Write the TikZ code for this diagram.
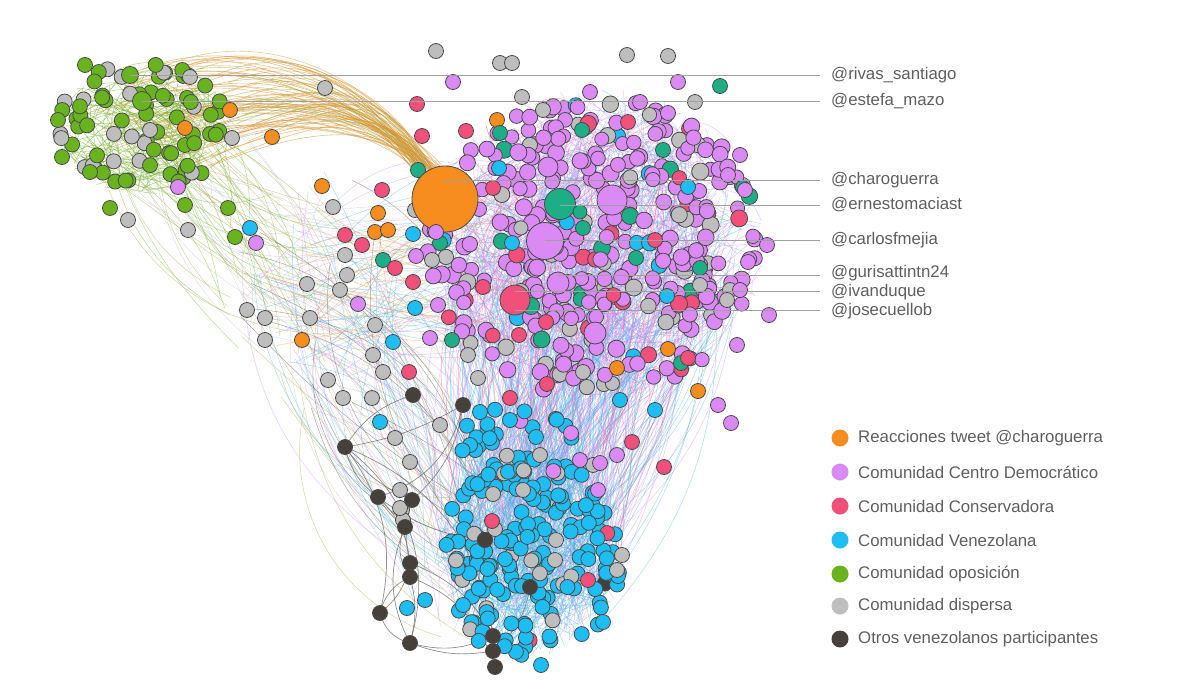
\documentclass[tikz,border=0pt]{standalone}
\usepackage{fontspec}
\setmainfont{Liberation Sans}
\definecolor{cpur}{RGB}{219,138,245}
\definecolor{corg}{RGB}{247,140,31}
\definecolor{cpnk}{RGB}{240,80,122}
\definecolor{cblu}{RGB}{30,190,245}
\definecolor{cgrn}{RGB}{105,180,30}
\definecolor{cgry}{RGB}{190,190,190}
\definecolor{cdrk}{RGB}{70,64,58}
\definecolor{ctel}{RGB}{29,174,134}
\definecolor{ctan}{RGB}{205,160,70}
\definecolor{colv}{RGB}{170,160,60}
\definecolor{ndline}{RGB}{75,75,75}
\definecolor{txtc}{RGB}{95,95,95}
\definecolor{lblline}{RGB}{160,160,160}
\definecolor{epur}{RGB}{205,140,240}
\definecolor{eblu}{RGB}{70,180,230}
\definecolor{edrk}{RGB}{110,105,100}
\newcommand\rpoint[6]{%
  \pgfmathsetmacro\rpA{360*rnd}%
  \pgfmathsetmacro\rpR{sqrt(rnd)}%
  \pgfmathsetmacro#5{#1+#3*\rpR*cos(\rpA)}%
  \pgfmathsetmacro#6{#2+#4*\rpR*sin(\rpA)}%
}
\tikzset{
  nd/.style={draw=ndline,line width=.8pt},
  edg/.style={line width=.5pt,opacity=.45},
  lbl/.style={anchor=west,text=txtc,font=\fontsize{16.8}{19}\selectfont,inner sep=0pt},
  lline/.style={draw=lblline,line width=1pt}
}
\begin{document}
\begin{tikzpicture}[x=1pt,y=-1pt]
\fill[white] (0,0) rectangle (1200,699);
\useasboundingbox (0,0) rectangle (1200,699);
\pgfmathsetseed{2718}
% ---------- edges ----------
% green internal
\foreach \i in {1,...,160}{
  \rpoint{145}{128}{95}{66}{\xa}{\ya}
  \rpoint{145}{128}{95}{66}{\xb}{\yb}
  \pgfmathsetmacro\bd{60*rand}
  \draw[edg,cgrn,opacity=.55] (\xa,\ya) to[bend left=\bd] (\xb,\yb);
}
% green to mid-left
\foreach \i in {1,...,60}{
  \rpoint{150}{128}{85}{58}{\xa}{\ya}
  \rpoint{290}{280}{90}{90}{\xb}{\yb}
  \pgfmathsetmacro\bd{40*rand}
  \pgfmathtruncatemacro\k{3*rnd}
  \ifcase\k \def\cc{cgrn}\or\def\cc{cgry}\or\def\cc{colv}\fi
  \draw[edg,\cc] (\xa,\ya) to[bend left=\bd] (\xb,\yb);
}
% tan arcs to the big orange node
\foreach \i in {1,...,75}{
  \rpoint{175}{122}{85}{58}{\xa}{\ya}
  \pgfmathsetmacro\ca{\xa+110}\pgfmathsetmacro\cb{\ya-45}
  \pgfmathsetmacro\da{390+20*rand}\pgfmathsetmacro\db{110+25*rand}
  \pgfmathsetmacro\ea{432+12*rand}\pgfmathsetmacro\eb{178+12*rand}
  \pgfmathtruncatemacro\k{3*rnd}
  \ifcase\k \def\cc{ctan}\or\def\cc{corg}\or\def\cc{colv}\fi
  \draw[\cc,opacity=.55,line width=.6pt] (\xa,\ya) .. controls (\ca,\cb) and (\da,\db) .. (\ea,\eb);
}
% left sparse long curves
\foreach \i in {1,...,90}{
  \rpoint{320}{300}{90}{130}{\xa}{\ya}
  \rpoint{470}{560}{70}{100}{\xb}{\yb}
  \pgfmathsetmacro\bd{50*rand}
  \pgfmathtruncatemacro\k{5*rnd}
  \ifcase\k \def\cc{cgry}\or\def\cc{eblu}\or\def\cc{colv}\or\def\cc{cdrk}\or\def\cc{epur}\fi
  \draw[edg,\cc] (\xa,\ya) to[bend left=\bd] (\xb,\yb);
}
% purple internal
\foreach \i in {1,...,520}{
  \rpoint{595}{245}{170}{158}{\xa}{\ya}
  \rpoint{595}{245}{170}{158}{\xb}{\yb}
  \pgfmathsetmacro\bd{50*rand}
  \pgfmathtruncatemacro\k{10*rnd}
  \ifnum\k<7 \def\cc{epur}\else\ifnum\k<9 \def\cc{eblu}\else\def\cc{cpnk}\fi\fi
  \draw[edg,\cc] (\xa,\ya) to[bend left=\bd] (\xb,\yb);
}
% purple to blue
\foreach \i in {1,...,420}{
  \rpoint{595}{260}{160}{150}{\xa}{\ya}
  \rpoint{530}{555}{95}{105}{\xb}{\yb}
  \pgfmathsetmacro\bd{30*rand}
  \pgfmathtruncatemacro\k{10*rnd}
  \ifnum\k<5 \def\cc{eblu}\else\ifnum\k<9 \def\cc{epur}\else\def\cc{cpnk}\fi\fi
  \draw[edg,\cc] (\xa,\ya) to[bend left=\bd] (\xb,\yb);
}
% blue internal
\foreach \i in {1,...,300}{
  \rpoint{530}{545}{95}{115}{\xa}{\ya}
  \rpoint{530}{545}{95}{115}{\xb}{\yb}
  \pgfmathsetmacro\bd{40*rand}
  \draw[edg,eblu] (\xa,\ya) to[bend left=\bd] (\xb,\yb);
}
% left to purple
\foreach \i in {1,...,80}{
  \rpoint{320}{290}{80}{100}{\xa}{\ya}
  \rpoint{520}{260}{90}{120}{\xb}{\yb}
  \pgfmathsetmacro\bd{40*rand}
  \pgfmathtruncatemacro\k{4*rnd}
  \ifcase\k \def\cc{cgry}\or\def\cc{eblu}\or\def\cc{corg}\or\def\cc{epur}\fi
  \draw[edg,\cc] (\xa,\ya) to[bend left=\bd] (\xb,\yb);
}
% ---------- dark nodes and their links ----------
\foreach \n/\x/\y in {d1/345/447, d2/378/497, d3/412/500, d4/405/527, d5/410/563,
  d6/410/577, d7/380/613, d8/410/643, d9/493/636, d10/493/651, d11/495/667,
  d12/463/405, d13/413/395, d14/530/587, d15/485/540}
  {\coordinate (\n) at (\x,\y);}
\foreach \a/\b/\bd in {d1/d2/-20, d1/d3/-15, d1/d7/25, d1/d8/35, d1/d9/30, d1/d12/-10,
  d2/d4/-10, d2/d5/20, d3/d5/-15, d4/d8/-25, d5/d7/20, d6/d8/15, d7/d8/-30, d7/d6/25,
  d8/d9/-20, d8/d10/-15, d5/d9/20, d6/d11/25, d12/d2/30, d13/d1/-20, d3/d12/-20,
  d14/d10/20, d15/d9/-20, d15/d2/15, d4/d6/-30}
  {\draw[edrk,line width=.7pt,opacity=.75] (\a) to[bend left=\bd] (\b);}
% ---------- nodes ----------
% green cluster
\foreach \i in {1,...,74}{
  \rpoint{145}{125}{92}{62}{\x}{\y}
  \pgfmathtruncatemacro\k{100*rnd}
  \ifnum\k<78 \def\cc{cgrn}\else\def\cc{cgry}\fi
  \fill[\cc,nd] (\x,\y) circle (7.5pt);
}
% purple cluster
\foreach \i in {1,...,360}{
  \rpoint{595}{245}{168}{152}{\x}{\y}
  \pgfmathtruncatemacro\k{100*rnd}
  \pgfmathsetmacro\rr{7+1.6*rnd}
  \ifnum\k<76 \def\cc{cpur}\else\ifnum\k<88 \def\cc{cgry}\else\ifnum\k<93 \def\cc{cpnk}\else\ifnum\k<96 \def\cc{ctel}\else\def\cc{cblu}\fi\fi\fi\fi
  \fill[\cc,nd] (\x,\y) circle (\rr pt);
}
% blue cluster
\foreach \i in {1,...,175}{
  \rpoint{530}{558}{92}{102}{\x}{\y}
  \pgfmathtruncatemacro\k{100*rnd}
  \ifnum\k<85 \def\cc{cblu}\else\ifnum\k<95 \def\cc{cgry}\else\ifnum\k<98 \def\cc{cpnk}\else\def\cc{cdrk}\fi\fi\fi
  \fill[\cc,nd] (\x,\y) circle (7.5pt);
}
% upper blue band
\foreach \i in {1,...,30}{
  \rpoint{520}{450}{70}{45}{\x}{\y}
  \pgfmathtruncatemacro\k{100*rnd}
  \ifnum\k<70 \def\cc{cblu}\else\ifnum\k<85 \def\cc{cgry}\else\def\cc{cpur}\fi\fi
  \fill[\cc,nd] (\x,\y) circle (7.5pt);
}
% explicit nodes
\foreach \c/\x/\y in {
 corg/230/110, corg/185/128, corg/272/137, corg/322/186, corg/378/213, corg/375/232,
 corg/302/340, corg/497/120, corg/617/368, corg/668/349, corg/698/391, corg/388/230,
 ctel/418/170, ctel/583/228, ctel/720/86, ctel/663/150, ctel/582/130, ctel/500/133,
 ctel/383/260, ctel/452/340, ctel/700/268, ctel/681/363, ctel/636/258, ctel/440/243,
 cpnk/417/104, cpnk/422/136, cpnk/466/131, cpnk/493/188, cpnk/382/190, cpnk/395/268,
 cpnk/362/245, cpnk/413/282, cpnk/483/287, cpnk/519/335, cpnk/546/322, cpnk/547/384,
 cpnk/510/398, cpnk/409/372, cpnk/664/467, cpnk/492/521, cpnk/588/580, cpnk/632/442,
 cpnk/688/358, cpnk/655/240, cpnk/628/122, cpnk/345/235,
 cblu/250/228, cblu/413/234, cblu/499/168, cblu/512/243, cblu/688/187, cblu/667/296,
 cblu/393/342, cblu/415/308, cblu/380/422, cblu/480/412, cblu/510/420, cblu/536/437,
 cblu/620/400, cblu/655/410, cblu/407/608, cblu/541/665, cblu/603/622, cblu/463/605,
 cblu/425/600,
 cgry/436/51, cgry/500/63, cgry/512/63, cgry/627/55, cgry/668/56, cgry/695/102,
 cgry/325/88, cgry/522/97, cgry/543/110, cgry/190/77, cgry/128/220, cgry/188/230,
 cgry/232/138, cgry/333/207, cgry/345/255, cgry/307/284, cgry/340/290, cgry/347/275,
 cgry/310/318, cgry/265/318, cgry/265/340, cgry/247/310, cgry/328/380, cgry/343/398,
 cgry/372/398, cgry/395/438, cgry/410/462, cgry/440/425, cgry/478/378, cgry/468/355,
 cgry/400/490, cgry/402/510, cgry/375/325, cgry/373/355, cgry/383/372, cgry/415/210,
 cgry/425/195, cgry/432/260, cgry/583/372, cgry/523/490, cgry/555/560, cgry/540/455,
 cgry/593/465, cgry/622/555, cgry/617/570, cgry/556/540, cgry/730/290, cgry/700/285,
 cgry/727/300, cgry/403/520, cgry/400/508,
 cpur/590/92, cpur/678/82, cpur/640/102, cpur/668/113, cpur/740/155, cpur/728/175,
 cpur/745/190, cpur/767/245, cpur/748/262, cpur/740/290, cpur/769/315, cpur/737/345,
 cpur/731/423, cpur/718/405, cpur/256/243, cpur/178/187, cpur/358/304, cpur/430/338,
 cpur/571/433, cpur/580/460, cpur/600/463, cpur/617/455, cpur/598/490, cpur/453/82,
 cpur/438/305, cpur/416/256,
 cgrn/110/208, cgrn/185/205, cgrn/228/208, cgrn/235/237, cgrn/90/172, cgrn/62/157,
 cgrn/58/120, cgrn/85/65}
 {\fill[\c,nd] (\x,\y) circle (7.5pt);}
\foreach \n in {d1,d2,d3,d4,d5,d6,d7,d8,d9,d10,d11,d12,d13,d14,d15}
  {\fill[cdrk,nd] (\n) circle (7.5pt);}
% big / labelled nodes
\fill[cgrn,nd] (130,75) circle (8.5pt);
\fill[cgrn,nd] (142,101) circle (9.5pt);
\fill[cpur,nd] (548,167) circle (10pt);
\fill[cpur,nd] (558,283) circle (11pt);
\fill[cpur,nd] (595,333) circle (11pt);
\fill[corg,nd] (445,199) circle (33pt);
\fill[cpur,nd] (436,232) circle (7.5pt);
\fill[ctel,nd] (560,204) circle (15.5pt);
\fill[ctel,nd] (580,212) circle (7pt);
\fill[cpur,nd] (612,200) circle (15pt);
\fill[cpur,nd] (545,241) circle (18.5pt);
\fill[cpnk,nd] (515,300) circle (15pt);
% ---------- label lines ----------
\coordinate (l1) at (130,75);  \coordinate (r1) at (820,75);
\coordinate (l2) at (142,101); \coordinate (r2) at (820,101);
\coordinate (l3) at (445,180); \coordinate (r3) at (820,180);
\coordinate (l4) at (560,205); \coordinate (r4) at (820,205);
\coordinate (l5) at (545,240); \coordinate (r5) at (820,240);
\coordinate (l6) at (557,275); \coordinate (r6) at (820,275);
\coordinate (l7) at (515,291); \coordinate (r7) at (820,291);
\coordinate (l8) at (515,310); \coordinate (r8) at (820,310);
\foreach \n in {1,...,8}{\draw[lline] (l\n) -- (r\n);}
\node[lbl] (t1) at (831,75)  {@rivas\_santiago};
\node[lbl] (t2) at (831,101) {@estefa\_mazo};
\node[lbl] (t3) at (831,180) {@charoguerra};
\node[lbl] (t4) at (831,205) {@ernestomaciast};
\node[lbl] (t5) at (831,240) {@carlosfmejia};
\node[lbl] (t6) at (831,273) {@gurisattintn24};
\node[lbl] (t7) at (831,292) {@ivanduque};
\node[lbl] (t8) at (831,311) {@josecuellob};
% ---------- legend ----------
\foreach \c/\y/\t/\n in {corg/438/Reacciones tweet @charoguerra/a,
  cpur/472/Comunidad Centro Democrático/b,
  cpnk/506/Comunidad Conservadora/c,
  cblu/540/Comunidad Venezolana/d,
  cgrn/574/Comunidad oposición/e,
  cgry/606/Comunidad dispersa/f,
  cdrk/639/Otros venezolanos participantes/g}{
  \fill[\c] (840,\y) circle (8.5pt);
  \node[lbl] (leg\n) at (858,\y) {\t};
}
\end{tikzpicture}
\end{document}
